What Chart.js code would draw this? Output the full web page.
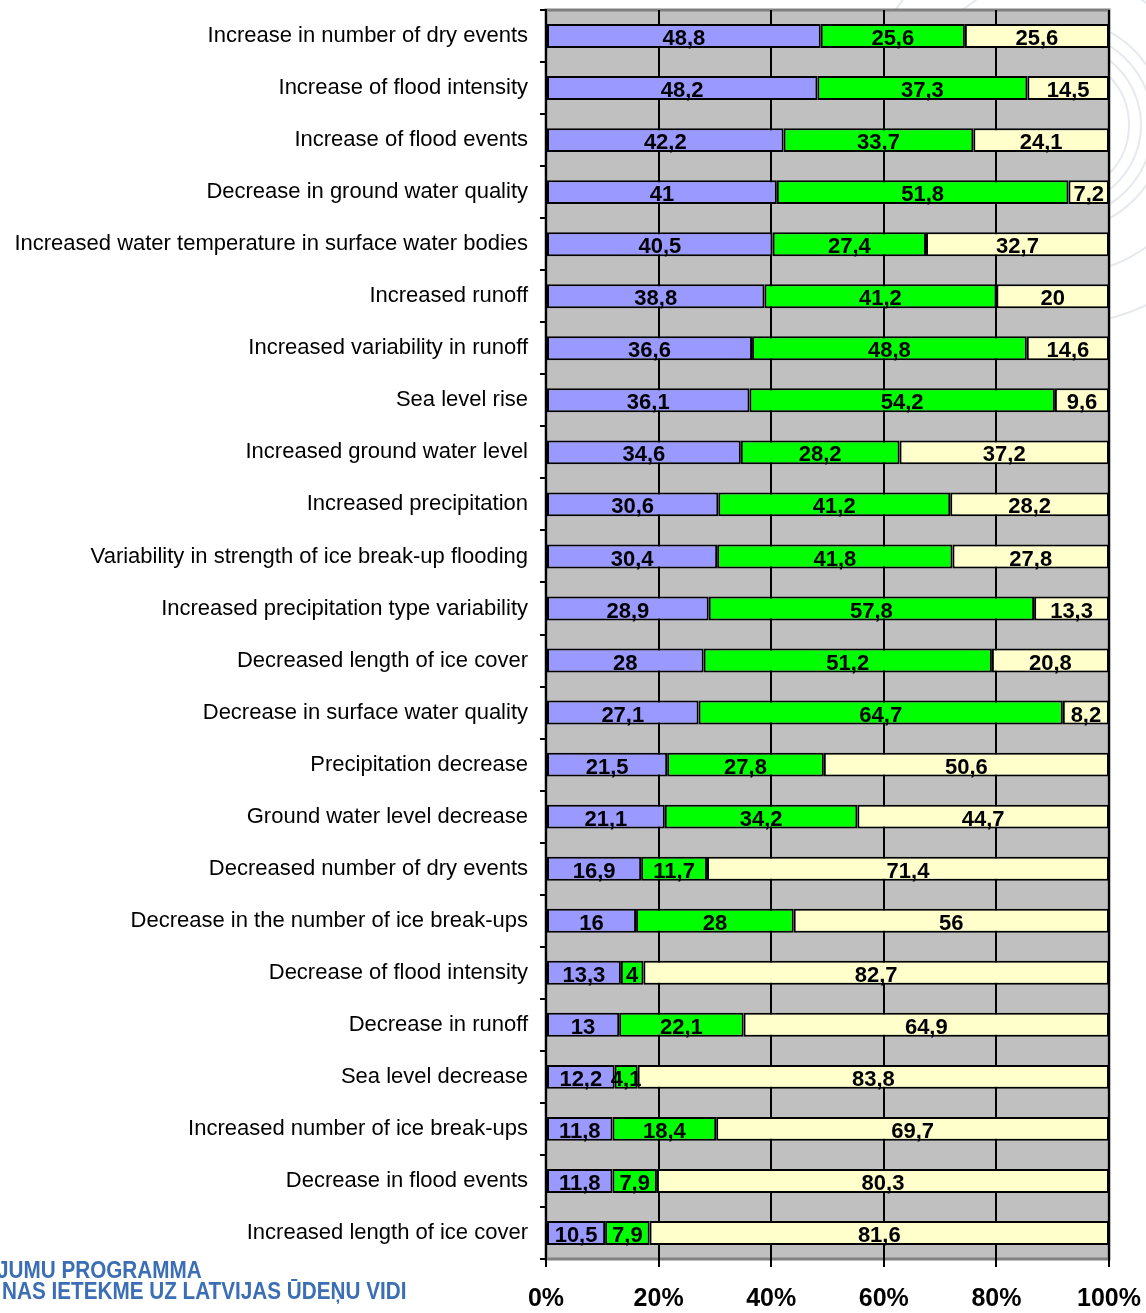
<!DOCTYPE html>
<html>
<head>
<meta charset="utf-8">
<script src="https://cdn.jsdelivr.net/npm/chart.js@4.4.0/dist/chart.umd.min.js"></script>
<style>
  body { margin: 0; background: #fff; }
  #wrap { position: relative; width: 1146px; height: 1313px; overflow: hidden; }
  #c { position: absolute; left: 0; top: 0; }
  .logo { position: absolute; font-family: "Liberation Sans Narrow", "Liberation Sans", Arial, sans-serif;
          font-weight: bold; color: #3b6eb4; font-size: 23px; white-space: nowrap;
          transform-origin: left top; transform: scaleX(0.9); }
</style>
</head>
<body>
<div id="wrap">
  <canvas id="c" width="1146" height="1313"></canvas>
  <div class="logo" style="left:-3px; top:1257px;">JUMU PROGRAMMA</div>
  <div class="logo" style="left:2px; top:1278px;">NAS IETEKME UZ LATVIJAS ŪDEŅU VIDI</div>
</div>
<script>
// categories, top to bottom
var categories = [
    "Increase in number of dry events",
    "Increase of flood intensity",
    "Increase of flood events",
    "Decrease in ground water quality",
    "Increased water temperature in surface water bodies",
    "Increased runoff",
    "Increased variability in runoff",
    "Sea level rise",
    "Increased ground water level",
    "Increased precipitation",
    "Variability in strength of ice break-up flooding",
    "Increased precipitation type variability",
    "Decreased length of ice cover",
    "Decrease in surface water quality",
    "Precipitation decrease",
    "Ground water level decrease",
    "Decreased number of dry events",
    "Decrease in the number of ice break-ups",
    "Decrease of flood intensity",
    "Decrease in runoff",
    "Sea level decrease",
    "Increased number of ice break-ups",
    "Decrease in flood events",
    "Increased length of ice cover"
];

// series values (percent)
var seriesA = [48.8, 48.2, 42.2, 41, 40.5, 38.8, 36.6, 36.1, 34.6, 30.6, 30.4, 28.9,
               28, 27.1, 21.5, 21.1, 16.9, 16, 13.3, 13, 12.2, 11.8, 11.8, 10.5];
var seriesB = [25.6, 37.3, 33.7, 51.8, 27.4, 41.2, 48.8, 54.2, 28.2, 41.2, 41.8, 57.8,
               51.2, 64.7, 27.8, 34.2, 11.7, 28, 4, 22.1, 4.1, 18.4, 7.9, 7.9];
var seriesC = [25.6, 14.5, 24.1, 7.2, 32.7, 20, 14.6, 9.6, 37.2, 28.2, 27.8, 13.3,
               20.8, 8.2, 50.6, 44.7, 71.4, 56, 82.7, 64.9, 83.8, 69.7, 80.3, 81.6];

var tickValues = [0, 20, 40, 60, 80, 100];

var raw = [seriesA, seriesB, seriesC];
var colors = ["#9999FF", "#00FF00", "#FFFFCC"];

// 100% stacked: scale each row to its sum
function share(arr, j) {
    var sum = seriesA[j] + seriesB[j] + seriesC[j];
    return arr[j] / sum * 100;
}

var datasets = raw.map(function(arr, i) {
    return {
        data: arr.map(function(v, j) { return share(arr, j); }),
        backgroundColor: colors[i],
        borderColor: "#000",
        borderWidth: 2,
        borderSkipped: false,
        barPercentage: 0.46,
        categoryPercentage: 1
    };
});

// faint watermark rings + gray plot area
var plotBg = {
    id: "plotBg",
    beforeDraw: function(chart) {
        var a = chart.chartArea, ctx = chart.ctx;
        ctx.save();
        ctx.strokeStyle = "#e6e9ee";
        ctx.lineWidth = 2;
        [70, 82, 94, 106, 150, 200].forEach(function(r) {
            ctx.beginPath();
            ctx.arc(a.right - 50, 125, r, 0, Math.PI * 2);
            ctx.stroke();
        });
        ctx.fillStyle = "#C0C0C0";
        ctx.fillRect(a.left, a.top, a.right - a.left, a.bottom - a.top);
        ctx.strokeStyle = "#808080";
        ctx.lineWidth = 3;
        ctx.strokeRect(a.left, a.top, a.right - a.left, a.bottom - a.top);
        ctx.restore();
    }
};

// value labels in the middle of each segment
var valueLabels = {
    id: "valueLabels",
    afterDatasetsDraw: function(chart) {
        var ctx = chart.ctx;
        ctx.save();
        ctx.font = "bold 22px 'Liberation Sans', Arial, sans-serif";
        ctx.textAlign = "center";
        ctx.textBaseline = "middle";
        ctx.fillStyle = "#000";
        raw.forEach(function(arr, i) {
            var meta = chart.getDatasetMeta(i);
            meta.data.forEach(function(bar, j) {
                var cx = (bar.x + bar.base) / 2;
                ctx.fillText(String(arr[j]).replace(".", ","), cx, bar.y + 3);
            });
        });
        ctx.restore();
    }
};

var chart = new Chart(document.getElementById("c"), {
    type: "bar",
    data: { labels: categories, datasets: datasets },
    plugins: [plotBg, valueLabels],
    options: {
        indexAxis: "y",
        responsive: false,
        animation: false,
        layout: { padding: { top: 10, right: 37, left: 0, bottom: 0 } },
        plugins: { legend: { display: false }, tooltip: { enabled: false } },
        scales: {
            x: {
                stacked: true,
                min: 0,
                max: 100,
                afterBuildTicks: function(axis) {
                    axis.ticks = tickValues.map(function(v) { return { value: v }; });
                },
                afterFit: function(axis) {
                    axis.height = 54;
                    axis.paddingLeft = 0;
                    axis.paddingRight = 0;
                },
                grid: { color: "#000", lineWidth: 2, tickLength: 8 },
                border: { display: false },
                ticks: {
                    padding: 17,
                    color: "#000",
                    font: { family: "'Liberation Sans', Arial, sans-serif", size: 25, weight: "bold" },
                    callback: function(v) { return v + "%"; }
                }
            },
            y: {
                stacked: true,
                afterFit: function(axis) {
                    axis.width = 546;
                    axis.paddingTop = 0;
                    axis.paddingBottom = 0;
                },
                grid: { drawOnChartArea: false, offset: true, color: "#000", lineWidth: 2, tickLength: 6 },
                border: { display: true, color: "#000", width: 2 },
                ticks: {
                    padding: 12,
                    color: "#000",
                    font: { family: "'Liberation Sans', Arial, sans-serif", size: 22 }
                }
            }
        }
    }
});
</script>
</body>
</html>
